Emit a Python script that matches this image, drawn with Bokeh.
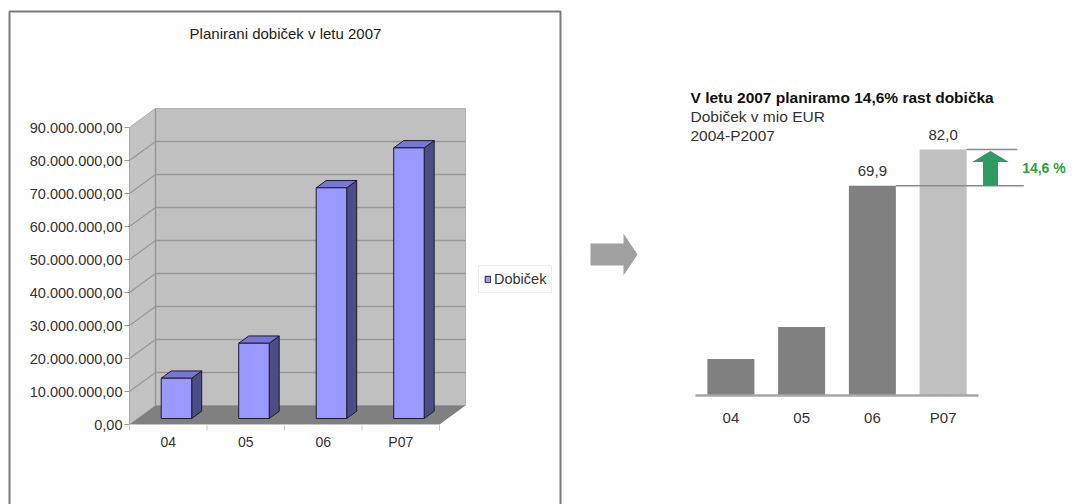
from bokeh.plotting import figure
from bokeh.models import Range1d, Legend, LegendItem
from bokeh.core.properties import value
from bokeh.embed import file_html
from bokeh.resources import INLINE

# ---- data -------------------------------------------------------------
categories = ["04", "05", "06", "P07"]
profit_mio = [12.2, 22.8, 69.9, 82.0]          # profit in mio EUR
profit_eur = [v * 1_000_000 for v in profit_mio]
eur_ticks = [0, 10_000_000, 20_000_000, 30_000_000, 40_000_000,
             50_000_000, 60_000_000, 70_000_000, 80_000_000, 90_000_000]
growth_pct = 14.6

left_title = "Planirani dobiček v letu 2007"
legend_label = "Dobiček"
right_title = "V letu 2007 planiramo 14,6%  rast dobička"
right_subtitles = ["Dobiček v mio EUR", "2004-P2007"]


def eu(v, nd):
    """Format a number with '.' thousands separator and ',' decimal mark."""
    s = f"{v:,.{nd}f}"
    return s.replace(",", " ").replace(".", ",").replace(" ", ".")


# ---- canvas -----------------------------------------------------------
W, H = 1072, 504
FONT = value("Liberation Sans")
p = figure(width=W, height=H, x_range=Range1d(0, W), y_range=Range1d(H, 0),
           output_backend="svg", toolbar_location=None, min_border=0,
           x_axis_location=None, y_axis_location=None)
p.grid.visible = False
p.outline_line_color = None
p.background_fill_color = "white"
p.border_fill_color = "white"

n = len(categories)

# ---- left panel: 3-D column chart ------------------------------------
p.line(x=[9, 9, 560, 560], y=[H + 5, 11, 11, H + 5],
       line_color="#7a7a7a", line_width=2)

LX0, LX1, L_BASE, L_PX_PER_EUR = 129, 439, 424, 3.3e-6
L_UNIT = (LX1 - LX0) / n
DEPTH_DX, DEPTH_DY = 26, 19
p.extra_x_ranges["lx"] = Range1d(-LX0 / L_UNIT, (W - LX0) / L_UNIT)
p.extra_y_ranges["ly"] = Range1d((L_BASE - H) / L_PX_PER_EUR, L_BASE / L_PX_PER_EUR)
LR = dict(x_range_name="lx", y_range_name="ly")


def proj(u, v, d):
    """Oblique projection: category position u, value v, depth d in [0, 1]."""
    return u + DEPTH_DX * d / L_UNIT, v + DEPTH_DY * d / L_PX_PER_EUR


def poly(pts):
    xs, ys = zip(*pts)
    return list(xs), list(ys)


vmax = eur_ticks[-1]
side_wall = [proj(0, 0, 0), proj(0, 0, 1), proj(0, vmax, 1), proj(0, vmax, 0)]
back_wall = [proj(0, 0, 1), proj(n, 0, 1), proj(n, vmax, 1), proj(0, vmax, 1)]
floor = [proj(0, 0, 0), proj(n, 0, 0), proj(n, 0, 1), proj(0, 0, 1)]

p.patch(*poly(side_wall), fill_color="#c3c3c3", line_color="#a8a8a8", line_width=1, **LR)
p.patch(*poly(back_wall), fill_color="#c0c0c0", line_color="#b0b0b0", line_width=1, **LR)

grid_xs, grid_ys = [], []
for v in eur_ticks[1:-1]:
    for a, b in ((proj(0, v, 1), proj(n, v, 1)), (proj(0, v, 0), proj(0, v, 1))):
        grid_xs.append([a[0], b[0]])
        grid_ys.append([a[1], b[1]])
p.multi_line(grid_xs, grid_ys, line_color="#989898", line_width=1.3, **LR)

corner = [proj(0, 0, 1), proj(0, vmax, 1)]
p.line(*poly(corner), line_color="#969696", line_width=1.5, **LR)

p.patch(*poly(floor), fill_color="#808080", line_color=None, **LR)

# axes ticks
p.segment(x0=[-5 / L_UNIT] * len(eur_ticks), y0=eur_ticks,
          x1=[0] * len(eur_ticks), y1=eur_ticks,
          line_color="#9a9a9a", line_width=1, **LR)
p.segment(x0=list(range(n + 1)), y0=[0] * (n + 1),
          x1=list(range(n + 1)), y1=[-6 / L_PX_PER_EUR] * (n + 1),
          line_color="#c8c8c8", line_width=1, **LR)
p.segment(x0=[0], y0=[0], x1=[n], y1=[0], line_color="#c8c8c8", line_width=1, **LR)

# bars
D0, D1 = 0.316, 0.70
HALF = 15.25 / L_UNIT
fl, fr, fb, ft = [], [], [], []
side_xs, side_ys, top_xs, top_ys = [], [], [], []
for i, val in enumerate(profit_eur):
    c = i + 0.5
    fl.append(proj(c - HALF, 0, D0)[0])
    fr.append(proj(c + HALF, 0, D0)[0])
    fb.append(proj(0, 0, D0)[1])
    ft.append(proj(0, val, D0)[1])
    sx, sy = poly([proj(c + HALF, 0, D0), proj(c + HALF, 0, D1),
                   proj(c + HALF, val, D1), proj(c + HALF, val, D0)])
    side_xs.append(sx)
    side_ys.append(sy)
    tx, ty = poly([proj(c - HALF, val, D0), proj(c + HALF, val, D0),
                   proj(c + HALF, val, D1), proj(c - HALF, val, D1)])
    top_xs.append(tx)
    top_ys.append(ty)

p.patches(side_xs, side_ys, fill_color="#4d4d85", line_color="#1c1c2e", line_width=1, **LR)
p.patches(top_xs, top_ys, fill_color="#7676d6", line_color="#1c1c2e", line_width=1, **LR)
front = p.quad(left=fl, right=fr, bottom=fb, top=ft, fill_color="#9999ff",
               line_color="#1c1c2e", line_width=1, **LR)

# tick labels
p.text(x=[0] * len(eur_ticks), y=eur_ticks, text=[eu(v, 2) for v in eur_ticks],
       x_offset=-7, text_align="right", text_baseline="middle",
       text_font=FONT, text_font_size="14.5px", text_color="#333333", **LR)
p.text(x=[i + 0.5 for i in range(n)], y=[0] * n, text=categories,
       y_offset=17, text_align="center", text_baseline="middle",
       text_font=FONT, text_font_size="14px", text_color="#333333", **LR)

p.text(x=[285], y=[33], text=[left_title], text_align="center",
       text_baseline="middle", text_font=FONT, text_font_size="15px",
       text_color="#222222")

legend = Legend(items=[LegendItem(label=legend_label, renderers=[front])],
                location=(478, H - 293), padding=5, spacing=0, margin=0,
                glyph_width=7, glyph_height=8, label_standoff=3,
                label_text_font="Liberation Sans", label_text_font_size="14.5px",
                label_text_color="#333333", label_height=14,
                border_line_color="#dadada", border_line_width=1,
                background_fill_color="white", background_fill_alpha=1)
p.add_layout(legend)

# ---- connecting arrow -----------------------------------------------
p.patch(x=[590, 623, 623, 637, 623, 623, 590],
        y=[243, 243, 233, 254, 275, 265, 265],
        fill_color="#a0a0a0", line_color=None)

# ---- right panel: simplified column chart ----------------------------
RX0, RX1, R_BASE, R_PX_PER_MIO = 695, 978, 395, 3.0
R_UNIT = (RX1 - RX0) / n
p.extra_x_ranges["rx"] = Range1d(-RX0 / R_UNIT, (W - RX0) / R_UNIT)
p.extra_y_ranges["ry"] = Range1d((R_BASE - H) / R_PX_PER_MIO, R_BASE / R_PX_PER_MIO)
RR = dict(x_range_name="rx", y_range_name="ry")

BAR_W = 47 / R_UNIT
centers = [i + 0.5 for i in range(n)]
bar_colors = ["#c0c0c0" if c.startswith("P") else "#808080" for c in categories]
p.vbar(x=centers, top=profit_mio, bottom=0, width=BAR_W,
       fill_color=bar_colors, line_color=None, **RR)
p.segment(x0=[0], y0=[0], x1=[n], y1=[0], line_color="#a6a6a6", line_width=2.5, **RR)

prev, plan = profit_mio[-2], profit_mio[-1]
p.segment(x0=[centers[-2] + BAR_W / 2, centers[-1] + BAR_W / 2], y0=[prev, plan],
          x1=[n + 0.64, n + 0.55], y1=[prev, plan],
          line_color="#8a8a8a", line_width=1.5, **RR)

# growth arrow between the two reference lines
ax = n + 0.17
sh, hh = 7.5 / R_UNIT, 18.3 / R_UNIT
tip = plan - 1.5 / R_PX_PER_MIO
hb = tip - 11 / R_PX_PER_MIO
p.patch(x=[ax - sh, ax + sh, ax + sh, ax + hh, ax, ax - hh, ax - sh],
        y=[prev, prev, hb, hb, tip, hb, hb],
        fill_color="#2f9a62", line_color=None, **RR)
p.text(x=[n + 0.617], y=[(prev + plan) / 2], text=[eu(growth_pct, 1) + " %"],
       text_align="left", text_baseline="middle", text_font=FONT,
       text_font_size="14px", text_font_style="bold", text_color="#2ea23a", **RR)

p.text(x=centers[-2:], y=profit_mio[-2:], text=[eu(v, 1) for v in profit_mio[-2:]],
       y_offset=-15, text_align="center", text_baseline="middle",
       text_font=FONT, text_font_size="15px", text_color="#333333", **RR)
p.text(x=centers, y=[0] * n, text=categories, y_offset=22,
       text_align="center", text_baseline="middle",
       text_font=FONT, text_font_size="15px", text_color="#333333", **RR)

p.text(x=[690], y=[97], text=[right_title], text_align="left", text_baseline="middle",
       text_font=FONT, text_font_size="15.5px", text_font_style="bold", text_color="#111111")
p.text(x=[690, 690], y=[116, 135], text=right_subtitles, text_align="left",
       text_baseline="middle", text_font=FONT, text_font_size="15.5px",
       text_color="#333333")

open("out.html", "w").write(file_html(p, INLINE))
